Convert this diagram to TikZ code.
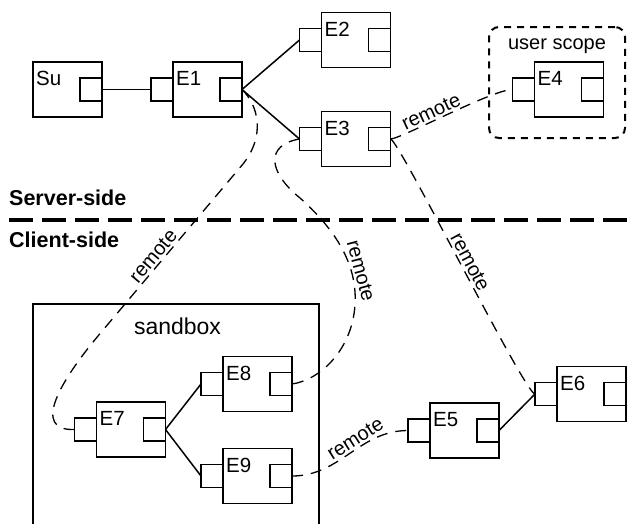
\documentclass[tikz,border=0pt]{standalone}
\usepackage{fontspec}
\setmainfont{Liberation Sans}

% A component: outer box, output port inside on the right, name at top left
\newcommand\component[3]{%
  \node[compbox] (#1) at (#2) {};
  \node[port, anchor=east] (#1-out) at (#1.east) {};
  \node[complabel] (#1-label) at ([xshift=3pt,yshift=-9pt]#1.north west) {#3};
}
% Input port sitting outside the left edge of a component
\newcommand\inport[1]{%
  \node[port, anchor=east] (#1-in) at (#1.west) {};
}

\begin{document}
\begin{tikzpicture}[x=1pt,y=-1pt,
  compbox/.style={draw, line width=1.5pt, minimum width=69pt, minimum height=55pt,
                  inner sep=0pt, outer sep=0pt},
  port/.style={draw, line width=1.5pt, minimum width=22pt, minimum height=23pt,
               inner sep=0pt, outer sep=0pt},
  complabel/.style={font=\fontsize{20.5}{24}\selectfont, inner sep=0pt, anchor=north west},
  wire/.style={line width=1.5pt},
  remote/.style={line width=1.3pt, dash pattern=on 11pt off 8pt},
  remotelabel/.style={font=\fontsize{20}{24}\selectfont, sloped, above, inner sep=2pt},
  sidelabel/.style={font=\bfseries\fontsize{21.5}{25}\selectfont, inner sep=0pt, anchor=base west},
]
\useasboundingbox (0,0) rectangle (632,523);

% containers
\node[draw, line width=2pt, anchor=north west, minimum width=286pt, minimum height=240pt,
      outer sep=0pt] (sandbox) at (33,304) {};
\node[font=\fontsize{23}{27}\selectfont, anchor=base, inner sep=0pt] (sandbox-label)
      at (177.5,334) {sandbox};
\node[draw, line width=2pt, dash pattern=on 7pt off 6pt, rounded corners=10pt,
      anchor=north west, minimum width=136pt, minimum height=111pt, outer sep=0pt]
      (userscope) at (489,27) {};
\node[font=\fontsize{20}{24}\selectfont, anchor=base, inner sep=0pt] (userscope-label)
      at (557,49) {user scope};

% server / client divider
\node[sidelabel] (server) at (9,205) {Server-side};
\node[sidelabel] (client) at (9,247) {Client-side};
\coordinate (divL) at (9,220);
\coordinate (divR) at (640,220);
\draw[line width=3.3pt, dash pattern=on 24pt off 9pt] (divL) -- (divR);

% components
\component{Su}{67.5,89.5}{Su}
\component{E1}{207.5,89.5}{E1}  \inport{E1}
\component{E2}{356,40}{E2}      \inport{E2}
\component{E3}{356,139}{E3}     \inport{E3}
\component{E4}{569,89.5}{E4}    \inport{E4}
\component{E5}{464.5,430.5}{E5} \inport{E5}
\component{E6}{591.5,394}{E6}   \inport{E6}
\component{E7}{131,429.5}{E7}   \inport{E7}
\component{E8}{257.5,384}{E8}   \inport{E8}
\component{E9}{257.5,476}{E9}   \inport{E9}

% local wires
\draw[wire] (Su-out.east) -- (E1-in.west);
\draw[wire] (E1-out.east) -- (E2-in.west);
\draw[wire] (E1-out.east) -- (E3-in.west);
\draw[wire] (E7-out.east) -- (E8-in.west);
\draw[wire] (E7-out.east) -- (E9-in.west);
\draw[wire] (E5-out.east) -- (E6-in.west);

% remote links
\draw[remote] (E3-out.east) .. controls +(10,0) and +(-20,0) .. (E4-in.west)
      node[remotelabel, pos=0.42] {remote};
\draw[remote] (E3-out.east) .. controls +(8,0) and +(-10,0) .. (E6-in.west)
      node[remotelabel, pos=0.5] {remote};
\draw[remote] (E9-out.east) to[out=0, in=180]
      node[remotelabel, pos=0.6] {remote} (E5-in.west);
\draw[remote] (E1-out.east) .. controls (258,105) and (266,135) .. (243,164)
      -- node[remotelabel, pos=0.57] {remote} (98,336)
      .. controls (62,379) and (30,431) .. (E7-in.west);
\draw[remote] (E3-in.west) .. controls (265,145) and (268,172) .. (300,198)
      .. controls (330,225) and (358,260) .. (355,305)
      node[remotelabel, pos=0.75] {remote}
      .. controls (352,350) and (320,380) .. (E8-out.east);
\end{tikzpicture}
\end{document}
